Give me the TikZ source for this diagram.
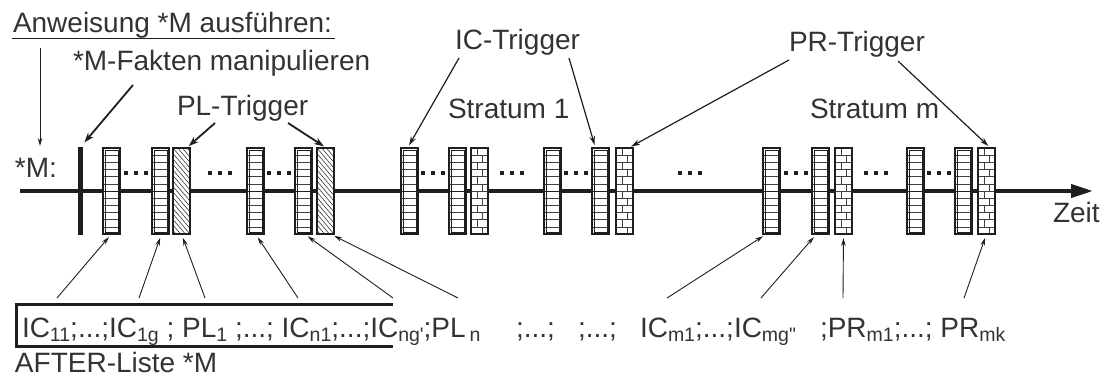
\documentclass[tikz,border=0pt]{standalone}
\usepackage{fontspec}
\setmainfont{Liberation Sans}
\usetikzlibrary{arrows.meta}
\definecolor{ink}{HTML}{1E1E1E}
\definecolor{txt}{HTML}{333333}
\newcommand\sbs[1]{\raisebox{-4.5pt}{\fontsize{19.5}{20}\selectfont #1}}
\begin{document}
\begin{tikzpicture}[x=1pt,y=-1pt,
  boxbase/.style={draw=ink, line width=1.2pt, fill=white, minimum width=17pt, minimum height=86pt, inner sep=0pt, outer sep=0pt},
  icbox/.style={boxbase, path picture={
     \foreach \k in {1,...,11}{\draw[ink!85, line width=0.45pt] ([yshift=-\k*7.1667pt]path picture bounding box.north west) -- ([yshift=-\k*7.1667pt]path picture bounding box.north east);}
     \draw[ink, line width=1pt] ([yshift=-43pt]path picture bounding box.north west) -- ([yshift=-43pt]path picture bounding box.north east);
     \draw[ink, line width=0.4pt] ([shift={(2pt,-2pt)}]path picture bounding box.north west) rectangle ([shift={(-2pt,2pt)}]path picture bounding box.south east);
  }},
  prbox/.style={boxbase, path picture={
     \foreach \k in {1,...,11}{\draw[ink!85, line width=0.45pt] ([yshift=-\k*7.1667pt]path picture bounding box.north west) -- ([yshift=-\k*7.1667pt]path picture bounding box.north east);}
     \foreach \k in {0,...,11}{\ifodd\k\def\fr{11.5}\else\def\fr{6}\fi
        \draw[ink!85, line width=0.45pt] ([shift={(\fr pt,-\k*7.1667pt)}]path picture bounding box.north west) -- ++(0,7.1667);}
  }},
  plbox/.style={boxbase, path picture={
     \foreach \k in {-5,...,17}{\draw[ink, line width=0.5pt] ([yshift=-\k*5.5pt]path picture bounding box.north west) -- ([yshift=-\k*5.5pt-20pt]path picture bounding box.north east);}
  }},
  lbl/.style={inner sep=0pt, outer sep=0pt, anchor=base west, text=txt, font=\fontsize{28}{32}\selectfont},
  thin/.style={draw=ink, line width=0.9pt, -{Stealth[length=8pt,width=4.5pt]}},
  mid/.style={draw=ink, line width=1.2pt, -{Stealth[length=9pt,width=5.5pt]}},
  thick/.style={draw=ink, line width=1.8pt, -{Stealth[length=10pt,width=7pt]}},
]
\useasboundingbox (0,0) rectangle (1104,381);

% timeline
\coordinate (t0) at (20,191);
\coordinate (t1) at (1093,191);
\draw[ink, line width=4pt, -{Triangle[length=22pt,width=13pt]}] (t0) -- (t1);

% start bar
\node[fill=ink, minimum width=5pt, minimum height=88pt, inner sep=0pt, outer sep=0pt] (bar) at (80.5,191) {};

% boxes
\foreach \n/\x in {ic1/103, ic2/152, ic3/247, ic4/295, ic5/401, ic6/449, ic7/544, ic8/592, ic9/763, ic10/812, ic11/907, ic12/955}
  \node[icbox] (\n) at (\x+8.5,191) {};
\foreach \n/\x in {pl1/173, pl2/317}
  \node[plbox] (\n) at (\x+8.5,191) {};
\foreach \n/\x in {pr1/471, pr2/616, pr3/835, pr4/978}
  \node[prbox] (\n) at (\x+8.5,191) {};

% dots
\foreach \s in {123,207,266,420,499,563,677,783,863,926}
  \foreach \d in {0,10,20}
    \fill[ink] (\s+\d+1,171) rectangle ++(4,4);

% top labels
\node[lbl] (title) at (13,32) {Anweisung *M ausführen:};
\draw[ink, line width=1.3pt] ([yshift=-0.5pt,xshift=-1pt]title.south west) -- ([yshift=-0.5pt,xshift=3pt]title.south east);
\node[lbl] (mlabel) at (15,177) {*M:};
\coordinate (dA) at (40,48);
\coordinate (dB) at (40,146);
\draw[thin] (dA) -- (dB);

\node[lbl] (fakten) at (73,70) {*M-Fakten manipulieren};
\coordinate (fk) at (133,85);
\draw[thick, shorten >=6pt] (fk) -- (bar.north);

\node[lbl] (pltrig) at (177,115) {PL-Trigger};
\coordinate (pla) at (215,123);
\coordinate (plb) at (288,123);
\draw[thick, shorten >=3pt] (pla) -- ([xshift=5pt]pl1.north);
\draw[thick, shorten >=3pt] (plb) -- ([xshift=1pt]pl2.north);

\node[lbl] (ictrig) at (455,49) {IC-Trigger};
\coordinate (ica) at (459,58);
\coordinate (icb) at (569,58);
\draw[mid, shorten >=3pt] (ica) -- ([xshift=-2pt]ic5.north);
\draw[mid, shorten >=3pt] (icb) -- ([xshift=-5pt]ic8.north);

\node[lbl] (prtrig) at (789,51) {PR-Trigger};
\coordinate (pra) at (789,60);
\coordinate (prb) at (898,61);
\draw[mid, shorten >=3pt] (pra) -- ([xshift=4pt]pr2.north);
\draw[mid, shorten >=3pt] (prb) -- ([xshift=4pt]pr4.north);

\node[lbl] (str1) at (448,118) {Stratum 1};
\node[lbl] (strm) at (810,118) {Stratum m};
\node[lbl] (zeit) at (1053,222) {Zeit};

% bottom list
\coordinate (bk1) at (393,304);
\coordinate (bk2) at (393,346);
\draw[ink, line width=3pt] (bk1) -| (16,346) -- (bk2);

\node[lbl] (b1) at (22,337) {IC\sbs{11};...;IC\sbs{1g} ; PL\sbs{1} ;...; IC\sbs{n1};...;IC\sbs{ng\textquotesingle};PL\hspace{4pt}\sbs{n}};
\node[lbl] (b2) at (516,337) {;...;};
\node[lbl] (b3) at (578,337) {;...;};
\node[lbl] (b4) at (640,337) {IC\sbs{m1};...;IC\sbs{mg\textquotedbl}};
\node[lbl] (b5) at (820,337) {;PR\sbs{m1};...; PR\sbs{mk}};
\node[lbl] (after) at (15,372) {AFTER-Liste *M};

% bottom arrows
\coordinate (s1) at (57,298);
\coordinate (s2) at (139,298);
\coordinate (s3) at (205,298);
\coordinate (s4) at (298,298);
\coordinate (s5) at (393,298);
\coordinate (s6) at (458,298);
\coordinate (s7) at (667,298);
\coordinate (s8) at (761,298);
\coordinate (s9) at (843,298);
\coordinate (s10) at (964,298);
\draw[thin, shorten >=4pt] (s1) -- (ic1.south);
\draw[thin, shorten >=4pt] (s2) -- ([xshift=1pt]ic2.south);
\draw[thin, shorten >=4pt] (s3) -- (pl1.south);
\draw[thin, shorten >=4pt] (s4) -- (ic3.south);
\draw[thin, shorten >=4pt] (s5) -- ([xshift=1pt]ic4.south);
\draw[thin, shorten >=4pt] (s6) -- ([xshift=5pt]pl2.south);
\draw[thin, shorten >=4pt] (s7) -- ([xshift=-5pt]ic9.south);
\draw[thin, shorten >=4pt] (s8) -- ([xshift=-4pt]ic10.south);
\draw[thin, shorten >=4pt] (s9) -- (pr3.south);
\draw[thin, shorten >=4pt] (s10) -- (pr4.south);
\end{tikzpicture}
\end{document}
